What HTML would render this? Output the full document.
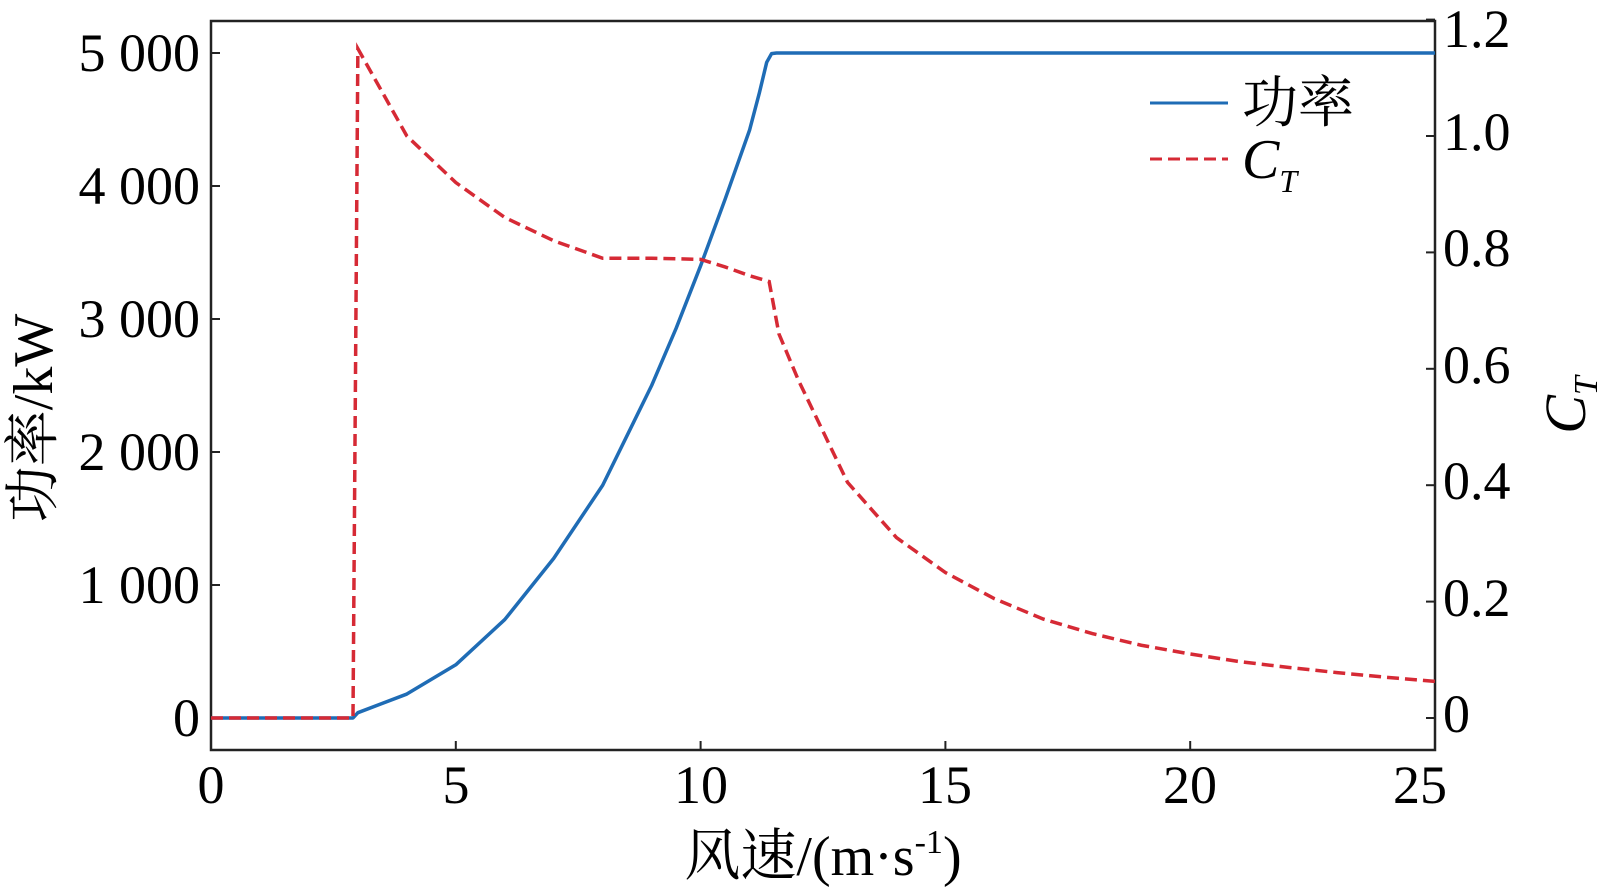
<!DOCTYPE html>
<html><head><meta charset="utf-8"><style>
html,body{margin:0;padding:0;background:#fff;}
svg{display:block;}
text{font-family:"Liberation Serif","Noto Serif CJK SC",serif;fill:#000;}
</style></head><body>
<svg width="1600" height="888" viewBox="0 0 1600 888" xmlns="http://www.w3.org/2000/svg">
<rect x="0" y="0" width="1600" height="888" fill="#fff"/>
<rect x="211" y="21" width="1224" height="729" fill="none" stroke="#222" stroke-width="2.5"/>
<g stroke="#222" stroke-width="2">
<line x1="211" y1="718" x2="220" y2="718"/><line x1="211" y1="585" x2="220" y2="585"/>
<line x1="211" y1="452" x2="220" y2="452"/><line x1="211" y1="319" x2="220" y2="319"/>
<line x1="211" y1="186" x2="220" y2="186"/><line x1="211" y1="53" x2="220" y2="53"/>
<line x1="1426" y1="718" x2="1435" y2="718"/><line x1="1426" y1="601.6" x2="1435" y2="601.6"/>
<line x1="1426" y1="485.2" x2="1435" y2="485.2"/><line x1="1426" y1="368.8" x2="1435" y2="368.8"/>
<line x1="1426" y1="252.4" x2="1435" y2="252.4"/><line x1="1426" y1="136" x2="1435" y2="136"/>
<line x1="1426" y1="19.6" x2="1435" y2="19.6"/>
<line x1="211" y1="750" x2="211" y2="741"/><line x1="455.8" y1="750" x2="455.8" y2="741"/>
<line x1="700.6" y1="750" x2="700.6" y2="741"/><line x1="945.4" y1="750" x2="945.4" y2="741"/>
<line x1="1190.2" y1="750" x2="1190.2" y2="741"/>
</g>
<g font-size="54" text-anchor="end">
<text x="200" y="736">0</text><text x="200" y="603">1 000</text><text x="200" y="470">2 000</text>
<text x="200" y="337">3 000</text><text x="200" y="204">4 000</text><text x="200" y="71">5 000</text>
</g>
<g font-size="54" text-anchor="start">
<text x="1443" y="732">0</text><text x="1443" y="616">0.2</text><text x="1443" y="499">0.4</text>
<text x="1443" y="383">0.6</text><text x="1443" y="266">0.8</text><text x="1443" y="150">1.0</text>
<text x="1443" y="47">1.2</text>
</g>
<g font-size="54" text-anchor="middle">
<text x="211" y="803">0</text><text x="456" y="803">5</text><text x="701" y="803">10</text>
<text x="945" y="803">15</text><text x="1190" y="803">20</text><text x="1420" y="803">25</text>
</g>
<text x="823" y="875" font-size="56" text-anchor="middle">风速/(m·s<tspan font-size="34" dy="-22">-1</tspan><tspan dy="22">)</tspan></text>
<text transform="translate(52,418) rotate(-90)" font-size="56" text-anchor="middle">功率/kW</text>
<text transform="translate(1585,405) rotate(-90)" font-size="58" text-anchor="middle" font-style="italic">C<tspan font-size="34" dy="12">T</tspan></text>
<line x1="1150" y1="103" x2="1228" y2="103" stroke="#1f6cb5" stroke-width="3"/>
<text x="1242" y="122" font-size="56">功率</text>
<line x1="1150" y1="159" x2="1228" y2="159" stroke="#d62a35" stroke-width="3" stroke-dasharray="12,6"/>
<text x="1242" y="178" font-size="56" font-style="italic">C<tspan font-size="32" dy="14">T</tspan></text>
<polyline id="p" fill="none" stroke="#1f6cb5" stroke-width="3.5" stroke-linejoin="round"/>
<polyline id="c" fill="none" stroke="#d62a35" stroke-width="3.5" stroke-dasharray="12,6"/>
</svg>
<script>
function X(v){return 211+v*48.96}
function YP(v){return 718-v*0.133}
function YC(v){return 718-v*582}
var P=[[0,0],[2.9,0],[3,40],[4,180],[5,400],[6,740],[7,1200],[8,1750],[9,2500],[9.5,2930],[10,3400],[10.5,3900],[11,4420],[11.2,4700],[11.35,4930],[11.45,4995],[11.55,5000],[25,5000]];
var C=[[0,0],[2.9,0],[3,1.15],[4,1.0],[5,0.92],[6,0.86],[7,0.82],[8,0.79],[9,0.79],[10,0.788],[10.5,0.775],[11,0.76],[11.4,0.75],[11.6,0.66],[12,0.58],[13,0.405],[14,0.31],[15,0.25],[16,0.205],[17,0.17],[18,0.145],[19,0.125],[20,0.11],[21,0.097],[22,0.087],[23,0.078],[24,0.07],[25,0.063]];
document.getElementById('p').setAttribute('points',P.map(function(d){return X(d[0])+','+YP(d[1])}).join(' '));
document.getElementById('c').setAttribute('points',C.map(function(d){return X(d[0])+','+YC(d[1])}).join(' '));
</script>
</body></html>
